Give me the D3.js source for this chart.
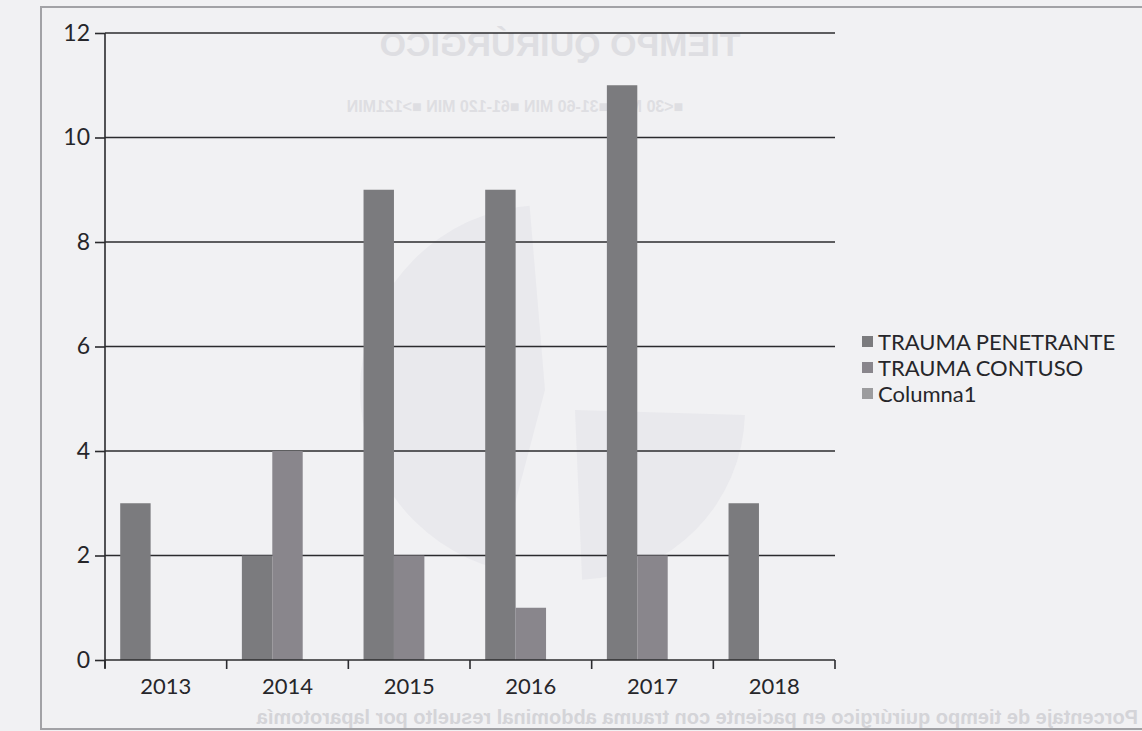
<!DOCTYPE html>
<html>
<head>
<meta charset="utf-8">
<script src="https://cdn.jsdelivr.net/npm/d3@7"></script>
<style>
  html, body { margin: 0; padding: 0; background: #f1f1f3; }
  svg { display: block; }
</style>
</head>
<body>
<div id="chart"></div>
<script>
var years = ['2013', '2014', '2015', '2016', '2017', '2018'];
var seriesNames = ['TRAUMA PENETRANTE', 'TRAUMA CONTUSO', 'Columna1'];
var penetrante = [3, 2, 9, 9, 11, 3];
var contuso = [0, 4, 2, 1, 2, 0];
var columna1 = [0, 0, 0, 0, 0, 0];
var yTicks = [0, 2, 4, 6, 8, 10, 12];
var colors = ['#7b7b7e', '#89868c', '#9c9c9e'];

var width = 1142, height = 731;
var font = 'Lato, "Open Sans", sans-serif';

var svg = d3.select('#chart').append('svg')
  .attr('width', width)
  .attr('height', height);

// faint show-through from the back of the scanned page (mirrored)
var ghost = svg.append('g').attr('fill', '#dedee2');
ghost.append('path')
  .attr('d', d3.arc()({ innerRadius: 0, outerRadius: 185, startAngle: 3.4, endAngle: 6.2 }))
  .attr('transform', 'translate(545,390)')
  .attr('fill', '#e9e9ed');
ghost.append('path')
  .attr('d', d3.arc()({ innerRadius: 0, outerRadius: 170, startAngle: 1.6, endAngle: 3.1 }))
  .attr('transform', 'translate(575,410)')
  .attr('fill', '#e9e9ed');
ghost.append('text')
  .attr('transform', 'translate(1120,0) scale(-1,1)')
  .attr('x', 560).attr('y', 56)
  .attr('text-anchor', 'middle')
  .style('font', 'bold 34px "Liberation Sans", Arial, sans-serif')
  .text('TIEMPO QUIRÚRGICO');
ghost.append('text')
  .attr('transform', 'translate(1030,0) scale(-1,1)')
  .attr('x', 515).attr('y', 112)
  .attr('text-anchor', 'middle')
  .style('font', 'bold 16px "Liberation Sans", Arial, sans-serif')
  .text('■<30 MIN   ■31-60 MIN   ■61-120 MIN   ■>121MIN');
ghost.append('text')
  .attr('transform', 'scale(-1,1)')
  .attr('x', -1138).attr('y', 724)
  .style('font', 'bold 20px "Liberation Sans", Arial, sans-serif')
  .attr('fill', '#d4d4d8')
  .text('Porcentaje de tiempo quirúrgico en paciente con trauma abdominal resuelto por laparotomía');

// chart frame
svg.append('path')
  .attr('d', 'M1142,7 H41 V729 H1142')
  .attr('fill', 'none')
  .attr('stroke', '#a2a2a6')
  .attr('stroke-width', 2);

var x = d3.scaleBand().domain(years).range([105, 835]);
var xs = d3.scaleBand().domain(seriesNames).range([0, x.bandwidth()])
  .paddingInner(0).paddingOuter(0.5);
var y = d3.scaleLinear().domain([0, 12]).range([660, 33]);

// gridlines
svg.append('g').selectAll('line')
  .data(yTicks.filter(function(d) { return d > 0; }))
  .join('line')
  .attr('x1', 105).attr('x2', 835)
  .attr('y1', function(d) { return y(d); })
  .attr('y2', function(d) { return y(d); })
  .attr('stroke', '#2b2b2e')
  .attr('stroke-width', 1.6);

// bars
var table = years.map(function(yr, i) {
  return { year: yr, values: [penetrante[i], contuso[i], columna1[i]] };
});

var groups = svg.append('g').selectAll('g')
  .data(table)
  .join('g')
  .attr('transform', function(d) { return 'translate(' + x(d.year) + ',0)'; });

groups.selectAll('rect')
  .data(function(d) {
    return d.values.map(function(v, j) { return { name: seriesNames[j], value: v, idx: j }; });
  })
  .join('rect')
  .attr('x', function(d) { return xs(d.name); })
  .attr('width', xs.bandwidth())
  .attr('y', function(d) { return y(d.value); })
  .attr('height', function(d) { return y(0) - y(d.value); })
  .attr('fill', function(d) { return colors[d.idx]; });

// y axis
var yAxis = svg.append('g')
  .attr('transform', 'translate(105,0)')
  .call(d3.axisLeft(y).tickValues(yTicks).tickSize(10).tickPadding(5));
yAxis.select('.domain').attr('d', 'M0,33 V668').attr('stroke', '#2b2b2e').attr('stroke-width', 1.6);
yAxis.selectAll('.tick line').attr('stroke', '#2b2b2e').attr('stroke-width', 1.6);
yAxis.selectAll('.tick text')
  .attr('fill', '#26262a')
  .style('font', '23px ' + font);

// x axis
var xAxis = svg.append('g')
  .attr('transform', 'translate(0,660)')
  .call(d3.axisBottom(x).tickSize(0).tickPadding(18));
xAxis.select('.domain').attr('d', 'M105,0 H835').attr('stroke', '#2b2b2e').attr('stroke-width', 1.6);
xAxis.selectAll('.tick text')
  .attr('fill', '#26262a')
  .style('font', '22px ' + font);

svg.append('g').selectAll('line')
  .data(years.concat(['end']))
  .join('line')
  .attr('x1', function(d) { return d === 'end' ? x.range()[1] : x(d); })
  .attr('x2', function(d) { return d === 'end' ? x.range()[1] : x(d); })
  .attr('y1', 660).attr('y2', 669)
  .attr('stroke', '#2b2b2e')
  .attr('stroke-width', 1.6);

// legend
var legend = svg.append('g')
  .attr('transform', 'translate(862,336)');

var items = legend.selectAll('g')
  .data(seriesNames)
  .join('g')
  .attr('transform', function(d, i) { return 'translate(0,' + (i * 26) + ')'; });

items.append('rect')
  .attr('width', 11).attr('height', 11)
  .attr('fill', function(d, i) { return colors[i]; });

items.append('text')
  .attr('x', 16).attr('y', 6)
  .attr('dy', '0.35em')
  .attr('fill', '#26262a')
  .style('font', '22px ' + font)
  .text(function(d) { return d; });
</script>
</body>
</html>
